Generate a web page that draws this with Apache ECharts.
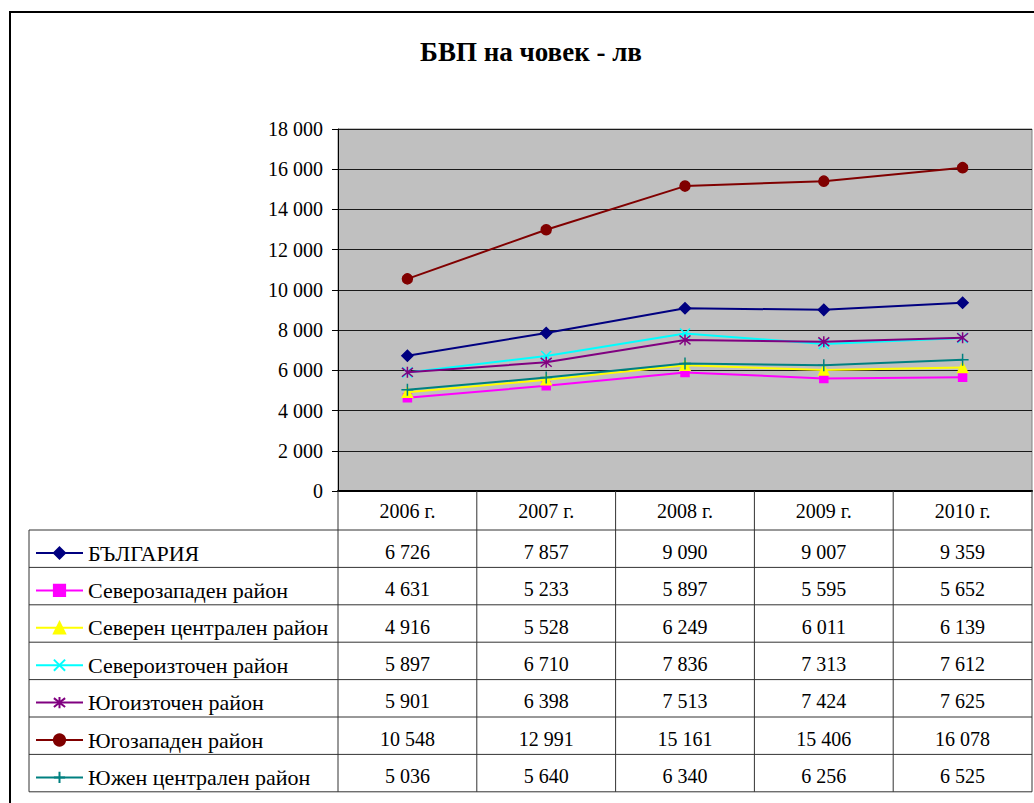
<!DOCTYPE html>
<html>
<head>
<meta charset="utf-8">
<script src="https://cdn.jsdelivr.net/npm/echarts@6/dist/echarts.min.js"></script>
<style>
html,body{margin:0;padding:0;background:#fff;}
#main{width:1034px;height:803px;}
</style>
</head>
<body>
<div id="main"></div>
<script>
// ---- data ----
const categories = ['2006 г.', '2007 г.', '2008 г.', '2009 г.', '2010 г.'];
const seriesNames = ['БЪЛГАРИЯ', 'Северозападен район', 'Северен централен район', 'Североизточен район', 'Югоизточен район', 'Югозападен район', 'Южен централен район'];
const bulgaria = [6726, 7857, 9090, 9007, 9359];
const severozapaden = [4631, 5233, 5897, 5595, 5652];
const severenCentralen = [4916, 5528, 6249, 6011, 6139];
const severoiztochen = [5897, 6710, 7836, 7313, 7612];
const yugoiztochen = [5901, 6398, 7513, 7424, 7625];
const yugozapaden = [10548, 12991, 15161, 15406, 16078];
const yuzhenCentralen = [5036, 5640, 6340, 6256, 6525];
const yTicks = [0, 2000, 4000, 6000, 8000, 10000, 12000, 14000, 16000, 18000];

const seriesValues = [bulgaria, severozapaden, severenCentralen, severoiztochen, yugoiztochen, yugozapaden, yuzhenCentralen];
const colors = ['#000080', '#FF00FF', '#FFFF00', '#00FFFF', '#800080', '#800000', '#008080'];
const symbols = ['diamond', 'rect', 'triangle',
  'path://M0,0L10,10M10,0L0,10',
  'path://M1,1L9,9M9,1L1,9M5,0L5,10',
  'circle',
  'path://M0,5L10,5M5,0L5,10'];
const symbolSizes = [11, 8, 10, 10, 11, 10, 12];

const FONT = '"Liberation Serif", "Times New Roman", Times, serif';
function fmt(v) {
  const s = String(Math.round(v));
  return s.replace(/\B(?=(\d{3})+(?!\d))/g, ' ');
}

const chart = echarts.init(document.getElementById('main'), null, {renderer: 'svg'});

const series = seriesNames.map((name, i) => ({
  name: name,
  type: 'line',
  data: seriesValues[i],
  symbol: symbols[i],
  symbolSize: symbolSizes[i],
  showAllSymbol: true,
  lineStyle: {color: colors[i], width: 2},
  itemStyle: {color: colors[i], borderColor: colors[i], borderWidth: 1.5},
  emphasis: {disabled: true},
  z: 3 + i
}));

chart.setOption({
  animation: false,
  backgroundColor: '#ffffff',
  title: {
    text: 'БВП на човек - лв',
    left: 526,
    top: 33,
    textAlign: 'center',
    textStyle: {fontFamily: FONT, fontWeight: 'bold', fontSize: 27, color: '#000'}
  },
  legend: {
    orient: 'vertical',
    left: 35,
    top: 542,
    padding: 0,
    itemWidth: 47,
    itemHeight: 14,
    itemGap: 15.4,
    selectedMode: false,
    data: seriesNames,
    textStyle: {fontFamily: FONT, fontSize: 22, color: '#000', lineHeight: 14, padding: [4, 0, 0, 0]}
  },
  grid: {
    left: 338, right: 2, top: 129, bottom: 312,
    show: true, backgroundColor: '#C0C0C0', borderColor: '#808080', borderWidth: 1
  },
  xAxis: {
    type: 'category',
    data: categories,
    boundaryGap: true,
    axisLine: {show: true, lineStyle: {color: '#000', width: 2}},
    axisTick: {show: false},
    axisLabel: {fontFamily: FONT, fontSize: 20, color: '#000', margin: 10},
    splitLine: {show: false}
  },
  yAxis: {
    type: 'value',
    min: 0, max: 18000, interval: 2000,
    axisLine: {show: true, lineStyle: {color: '#000', width: 1}},
    axisTick: {show: true, length: 6, lineStyle: {color: '#000'}},
    axisLabel: {fontFamily: FONT, fontSize: 20, color: '#000', margin: 15, padding: [5, 0, 0, 0],
      formatter: v => fmt(v)},
    splitLine: {show: true, lineStyle: {color: '#1a1a1a', width: 1}}
  },
  series: series
});

// ---- data table drawn under the plot, aligned to the axis bands ----
const centers = categories.map((c, i) => chart.convertToPixel({xAxisIndex: 0}, i));
const band = centers[1] - centers[0];
const gridLeft = centers[0] - band / 2;
const gridRight = centers[centers.length - 1] + band / 2;
const gridBottom = chart.convertToPixel({yAxisIndex: 0}, 0);
const headerH = 39;
const rowH = 37.4;
const tableTop = gridBottom + headerH;
const tableLeft = 29;
const tableBottom = tableTop + rowH * seriesNames.length;
const lineCol = '#333';
const g = [];

function hline(x1, x2, y, w) {
  g.push({type: 'line', silent: true, z: 50, shape: {x1: x1, y1: y, x2: x2, y2: y}, style: {stroke: lineCol, lineWidth: w || 1}});
}
function vline(x, y1, y2, w) {
  g.push({type: 'line', silent: true, z: 50, shape: {x1: x, y1: y1, x2: x, y2: y2}, style: {stroke: lineCol, lineWidth: w || 1}});
}

for (let r = 0; r <= seriesNames.length; r++) {
  hline(tableLeft, gridRight, tableTop + r * rowH, 1);
}
for (let c = 0; c <= categories.length; c++) {
  vline(gridLeft + c * band, gridBottom, tableBottom, 1);
}
vline(tableLeft, tableTop, tableBottom, 1);

seriesValues.forEach((vals, r) => {
  const cy = tableTop + r * rowH + rowH / 2 + 3;
  vals.forEach((v, c) => {
    g.push({type: 'text', silent: true, z: 60, x: centers[c], y: cy,
      style: {text: fmt(v), fontFamily: FONT, fontSize: 20, fill: '#000', align: 'center', verticalAlign: 'middle'}});
  });
});

g.push({type: 'rect', silent: true, z: 70, shape: {x: 10, y: 12, width: 1200, height: 1000},
  style: {fill: 'none', stroke: '#000', lineWidth: 2}});

chart.setOption({graphic: g});
</script>
</body>
</html>
